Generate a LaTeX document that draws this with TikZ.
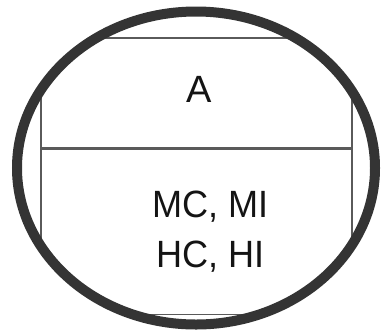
\documentclass[tikz,border=0pt]{standalone}
\usepackage{fontspec}
\setmainfont{Liberation Sans}
\usepackage{xcolor}
\definecolor{ringgray}{RGB}{52,52,52}
\definecolor{boxgray}{RGB}{90,90,90}
\definecolor{textblack}{RGB}{20,20,20}
\usetikzlibrary{positioning,shapes.geometric}

\begin{document}
\begin{tikzpicture}[
  x=1pt,y=-1pt,
  part/.style={rectangle,draw=boxgray,line width=1.4pt,minimum width=311pt,
    inner sep=0pt},
  label text/.style={inner sep=0pt,align=center,
    font=\fontsize{38}{50}\selectfont\color{textblack}},
  ring/.style={ellipse,draw=ringgray,line width=10pt,minimum width=358pt,
    minimum height=313pt,inner sep=0pt}
]
  \useasboundingbox (0,0) rectangle (382,333);
  \begin{scope}
    \clip (196,168) ellipse (179pt and 157pt);
    \node[part,minimum height=110pt] (top) at (196.5,93) {};
    \node[part,minimum height=165pt,below=0pt of top] (bottom) {};
  \end{scope}
  \node[label text] (name) at ([xshift=3pt,yshift=4pt]top.center) {A};
  \node[label text] (marks) at ([xshift=14pt]bottom.center)
    {\scalebox{0.95}[1]{MC, MI}\\\scalebox{0.95}[1]{HC, HI}};
  \node[ring] (oval) at (196,168) {};
\end{tikzpicture}
\end{document}
